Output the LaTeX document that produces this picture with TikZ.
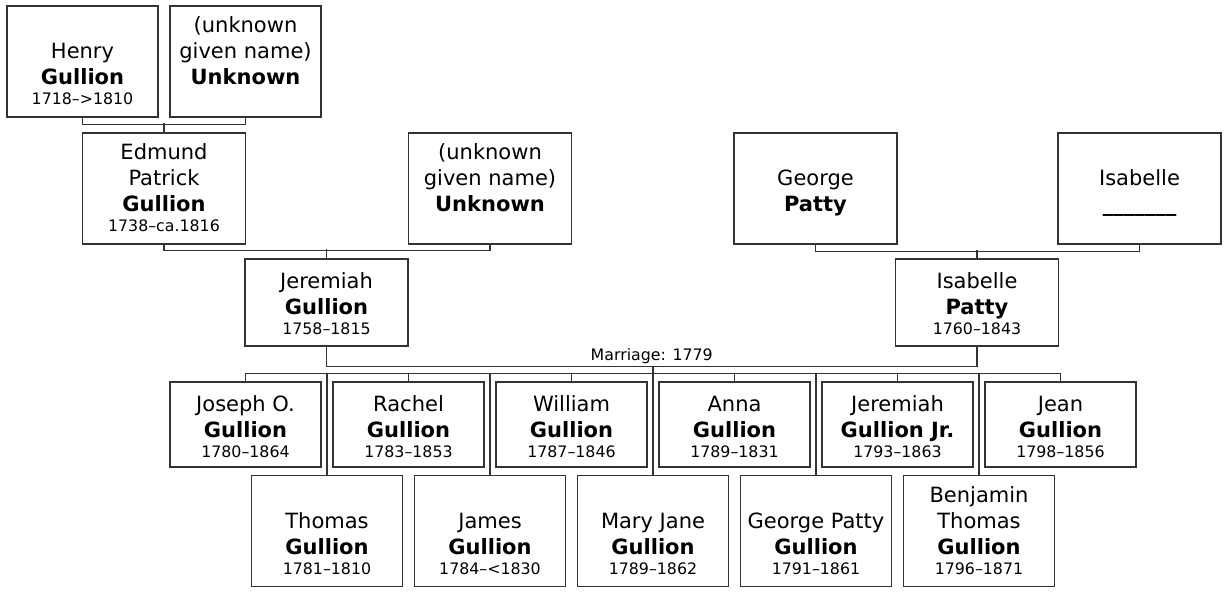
\documentclass[tikz,border=0pt]{standalone}
\usepackage{fontspec}
\setmainfont{DejaVu Sans}
\usetikzlibrary{positioning, calc}

\newcommand{\namesize}{\fontsize{21}{26}\selectfont}
\newcommand{\datesize}{\fontsize{15.8}{19}\selectfont}
% card texts: given name line(s), surname, dates
\newcommand{\cardfour}[4]{\rule{0pt}{20.7pt}#1\\\strut#2\\\strut\textbf{#3}\\[-6pt]{\datesize\strut#4}}
\newcommand{\cardthree}[3]{\rule{0pt}{24.7pt}#1\\\strut\textbf{#2}\\[-6pt]{\datesize\strut#3}}

\begin{document}
\begin{tikzpicture}[
    x=1pt, y=-1pt,
    % Person card styles
    card/.style={draw=black!80, line width=1.1pt, fill=white, align=center, font=\namesize, inner sep=0pt},
    tallwide/.style={card, minimum width=163pt, minimum height=111pt},
    tallnarrow/.style={card, minimum width=151pt, minimum height=111pt},
    shortwide/.style={card, minimum width=163pt, minimum height=87pt},
    shortnarrow/.style={card, minimum width=151pt, minimum height=85pt},
    % Family lines
    link/.style={draw=black!80, line width=1.1pt}
]
\useasboundingbox (0,0) rectangle (1226,593);

% Grandparents of Jeremiah
\node[tallnarrow] (henry) at (82.5,61.5) {\cardfour{}{Henry}{Gullion}{1718–>1810}};
\node[tallnarrow] (henry_wife) at (245.5,61.5) {\cardfour{(unknown}{given name)}{Unknown}{}};

% Parents of Jeremiah and of Isabelle
\node[tallwide] (edmund) at (164,188.5) {\cardfour{Edmund}{Patrick}{Gullion}{1738–ca.1816}};
\node[tallwide] (edmund_wife) at (490,188.5) {\cardfour{(unknown}{given name)}{Unknown}{}};
\node[tallwide] (george) at (815.5,188.5) {\cardfour{}{George}{Patty}{}};
\node[tallwide] (isabelle_mother) at (1139.5,188.5) {\cardfour{}{Isabelle}{\_\_\_\_\_\_\_}{}};

% The couple
\node[shortwide] (jeremiah) at (326.5,302.5) {\cardthree{Jeremiah}{Gullion}{1758–1815}};
\node[shortwide] (isabelle) at (977,302.5) {\cardthree{Isabelle}{Patty}{1760–1843}};

% Children, upper row
\foreach \i/\given/\sur/\dates in {1/Joseph O./Gullion/1780–1864, 2/Rachel/Gullion/1783–1853,
    3/William/Gullion/1787–1846, 4/Anna/Gullion/1789–1831,
    5/Jeremiah/Gullion Jr./1793–1863, 6/Jean/Gullion/1798–1856} {
    \node[shortnarrow] (kid\i) at ({82.5+163*\i},424.5) {\cardthree{\given}{\sur}{\dates}};
}

% Children, lower row
\foreach \i/\ga/\gb/\dates in {1//Thomas/1781–1810, 2//James/1784–<1830,
    3//Mary Jane/1789–1862, 4//George Patty/1791–1861, 5/Benjamin/Thomas/1796–1871} {
    \node[tallnarrow] (low\i) at ({164+163*\i},531) {\cardfour{\ga}{\gb}{Gullion}{\dates}};
}

% Family lines of the ancestors
\draw[link] (henry.south) -- ++(0,7) -| (henry_wife.south);
\draw[link] (edmund.north) -- ++(0,-9);
\draw[link] (edmund.south) -- ++(0,6) -| (edmund_wife.south);
\draw[link] (jeremiah.north) -- ++(0,-9);
\draw[link] (george.south) -- ++(0,7) -| (isabelle_mother.south);
\draw[link] (isabelle.north) -- ++(0,-8);

% Marriage
\draw[link] (jeremiah.south) -- ++(0,20) -| (isabelle.south)
    node[pos=0.25, above, inner sep=2pt, font=\datesize] (marriage) {Marriage: 1779};
\coordinate (wed) at ($(jeremiah.south)!0.5!(isabelle.south) + (0,20)$);

% Children bar
\coordinate (kidbar) at ([yshift=8pt]kid1.north);
\draw[link] (kid1.north) -- (kidbar) -| (kid6.north);
\foreach \i in {2,...,5} {
    \draw[link] (kid\i.north) -- (kid\i.north |- kidbar);
}
\foreach \i in {1,2,4,5} {
    \draw[link] (low\i.north) -- (low\i.north |- kidbar);
}
\draw[link] (low3.north) -- (low3.north |- wed);

\end{tikzpicture}
\end{document}
